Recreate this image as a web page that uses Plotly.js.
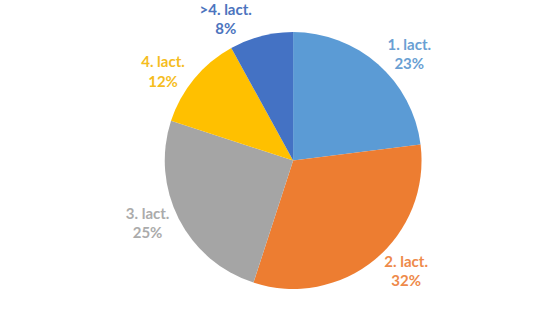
<!DOCTYPE html>
<html><head><meta charset="utf-8">
<script src="https://cdn.plot.ly/plotly-3.0.1.min.js"></script>
<style>html,body{margin:0;padding:0;background:#fff}#c{width:533px;height:321px}</style>
</head><body><div id="c"></div>
<script>
const labels = ["1. lact.", "2. lact.", "3. lact.", "4. lact.", ">4. lact."];
const values = [23, 32, 25, 12, 8];
const colors = ["#5B9BD5", "#ED7D31", "#A5A5A5", "#FFC000", "#4472C4"];
const textColors = ["#6A9FD3", "#EE8A4A", "#ABABAB", "#F5BD1E", "#4C74BE"];

Plotly.newPlot("c", [{
  type: "pie",
  labels: labels,
  values: values,
  sort: false,
  direction: "clockwise",
  rotation: 0,
  marker: {colors: colors, line: {color: "#ffffff", width: 0}},
  texttemplate: "%{label}<br>%{percent:.0%}",
  textposition: "outside",
  outsidetextfont: {family: "Lato, 'Open Sans', sans-serif", size: 15, color: textColors, weight: "bold"},
  hoverinfo: "none",
  automargin: false,
  domain: {x: [0.27, 0.83], y: [0.1, 0.9]}
}], {
  width: 533, height: 321,
  margin: {l: 0, r: 0, t: 0, b: 0},
  showlegend: false,
  paper_bgcolor: "#ffffff"
}, {displayModeBar: false, staticPlot: true});
</script></body></html>
